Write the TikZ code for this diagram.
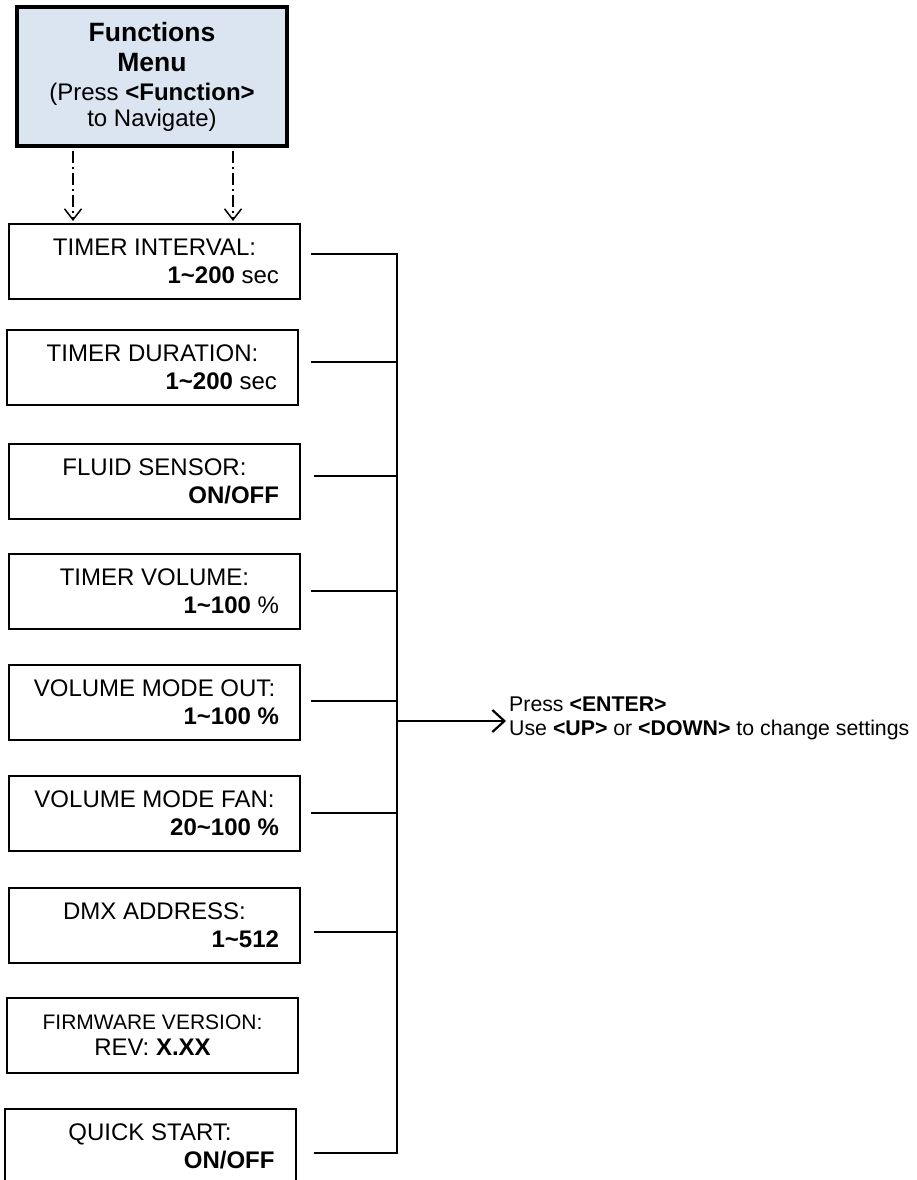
\documentclass[tikz,border=0pt]{standalone}
\usepackage{fontspec}
\setmainfont{Liberation Sans}
\usetikzlibrary{arrows.meta}
\definecolor{menublue}{HTML}{DBE5F1}
\newcommand\itemlines[2]{\parbox{249pt}{\centering\fontsize{24}{28}\selectfont #1\\\hfill #2}}
\begin{document}
\begin{tikzpicture}[x=1pt,y=-1pt,
  menubox/.style={draw=black, fill=menublue, line width=4pt, minimum width=270pt, minimum height=139pt, inner sep=0pt},
  itembox/.style={draw=black, line width=2pt, minimum width=291pt, minimum height=75pt, inner sep=0pt},
  conn/.style={line width=1.6pt},
  dasharrow/.style={line width=1.5pt, dash pattern=on 12pt off 4pt on 2pt off 4pt, -{Straight Barb[length=11pt,width=17pt,line width=1.5pt]}},
  bigarrow/.style={line width=2.2pt, -{Straight Barb[length=12pt,width=22pt]}},
  notetext/.style={align=left, inner sep=0pt, font=\fontsize{21.3}{24}\selectfont}
]
\useasboundingbox (0,0) rectangle (916,1180);

\node[menubox] (menu) at (152,76.5) {\parbox{265pt}{\centering\fontsize{26.5}{30}\selectfont\bfseries Functions\\Menu\par\fontsize{24}{29}\selectfont\mdseries (Press \textbf{<Function>}\\\fontsize{24}{26}\selectfont to Navigate)}};

\node[itembox] (i1) at (154.5,261) {\itemlines{TIMER INTERVAL:}{\textbf{1\textasciitilde 200} sec}};
\node[itembox] (i2) at (152.5,367) {\itemlines{TIMER DURATION:}{\textbf{1\textasciitilde 200} sec}};
\node[itembox] (i3) at (154.5,481) {\itemlines{FLUID SENSOR:}{\textbf{ON/OFF}}};
\node[itembox] (i4) at (154.5,591) {\itemlines{TIMER VOLUME:}{\textbf{1\textasciitilde 100} \%}};
\node[itembox] (i5) at (154.5,702.5) {\itemlines{VOLUME MODE OUT:}{\textbf{1\textasciitilde 100 \%}}};
\node[itembox] (i6) at (154.5,813) {\itemlines{VOLUME MODE FAN:}{\textbf{20\textasciitilde 100 \%}}};
\node[itembox] (i7) at (154.5,925) {\itemlines{DMX ADDRESS:}{\textbf{1\textasciitilde 512}}};
\node[itembox] (i8) at (152.5,1035) {\parbox{249pt}{\centering{\fontsize{21}{25}\selectfont FIRMWARE VERSION:}\\\fontsize{24}{26}\selectfont REV: \textbf{X.XX}}};
\node[itembox] (i9) at (150,1146.5) {\itemlines{QUICK START:}{\textbf{ON/OFF}}};

\node[notetext, anchor=north west] (note) at (509,697) {Press \textbf{<ENTER>}\\Use \textbf{<UP>} or \textbf{<DOWN>} to change settings};

% dashed arrows from menu
\draw[dasharrow, shorten <=3pt, shorten >=1.5pt] ([xshift=-79pt]menu.south) -- ([xshift=-79pt]menu.south |- i1.north);
\draw[dasharrow, shorten <=3pt, shorten >=1.5pt] ([xshift=81pt]menu.south) -- ([xshift=81pt]menu.south |- i1.north);

% connectors to bus
\coordinate (s1) at (311,254);
\coordinate (s2) at (311,362);
\coordinate (s3) at (314,476);
\coordinate (s4) at (311,591);
\coordinate (s5) at (311,701);
\coordinate (s6) at (311,813);
\coordinate (s7) at (314,932);
\coordinate (s9) at (314,1153);
\coordinate (busbot) at (397,1153);
\coordinate (a0) at (397,721);

\draw[conn] (s1) -| (busbot) -- (s9);
\foreach \s in {s2,s3,s4,s5,s6,s7}{\draw[conn] (\s) -- (\s -| busbot);}
\draw[bigarrow, shorten >=3pt] (a0) -- (a0 -| note.west);
\end{tikzpicture}
\end{document}
